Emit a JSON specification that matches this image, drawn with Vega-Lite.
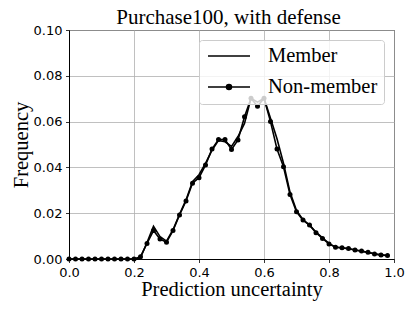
{
  "$schema": "https://vega.github.io/schema/vega-lite/v6.json",
  "autosize": "none",
  "width": 325,
  "height": 229,
  "padding": {"left": 69, "top": 30, "right": 21, "bottom": 52},
  "background": "white",
  "title": {
    "text": "Purchase100, with defense",
    "font": "Liberation Serif",
    "fontSize": 21,
    "fontWeight": "normal",
    "color": "black",
    "anchor": "middle",
    "baseline": "alphabetic",
    "offset": 7,
    "dy": 28,
    "dx": -3
  },
  "data": {
    "values": [
      {"u": 0.00, "Member": 0, "Non-member": 0},
      {"u": 0.02, "Member": 0, "Non-member": 0},
      {"u": 0.04, "Member": 0, "Non-member": 0},
      {"u": 0.06, "Member": 0, "Non-member": 0},
      {"u": 0.08, "Member": 0, "Non-member": 0},
      {"u": 0.10, "Member": 0, "Non-member": 0},
      {"u": 0.12, "Member": 0, "Non-member": 0},
      {"u": 0.14, "Member": 0, "Non-member": 0},
      {"u": 0.16, "Member": 0, "Non-member": 0},
      {"u": 0.18, "Member": 0, "Non-member": 0},
      {"u": 0.20, "Member": 0, "Non-member": 0},
      {"u": 0.22, "Member": 0.0005, "Non-member": 0.001},
      {"u": 0.24, "Member": 0.0072, "Non-member": 0.0068},
      {"u": 0.26, "Member": 0.0143, "Non-member": 0.0124},
      {"u": 0.28, "Member": 0.0098, "Non-member": 0.0087},
      {"u": 0.30, "Member": 0.0078, "Non-member": 0.0073},
      {"u": 0.32, "Member": 0.0128, "Non-member": 0.0124},
      {"u": 0.34, "Member": 0.0195, "Non-member": 0.0192},
      {"u": 0.36, "Member": 0.0258, "Non-member": 0.0253},
      {"u": 0.38, "Member": 0.0338, "Non-member": 0.0331},
      {"u": 0.40, "Member": 0.0368, "Non-member": 0.0355},
      {"u": 0.42, "Member": 0.0418, "Non-member": 0.041},
      {"u": 0.44, "Member": 0.0475, "Non-member": 0.048},
      {"u": 0.46, "Member": 0.0518, "Non-member": 0.0522},
      {"u": 0.48, "Member": 0.0512, "Non-member": 0.0522},
      {"u": 0.50, "Member": 0.0492, "Non-member": 0.0478},
      {"u": 0.52, "Member": 0.0535, "Non-member": 0.052},
      {"u": 0.54, "Member": 0.0592, "Non-member": 0.0621},
      {"u": 0.56, "Member": 0.0702, "Non-member": 0.0702},
      {"u": 0.58, "Member": 0.0685, "Non-member": 0.0667},
      {"u": 0.60, "Member": 0.0702, "Non-member": 0.0702},
      {"u": 0.62, "Member": 0.0615, "Non-member": 0.060},
      {"u": 0.64, "Member": 0.0525, "Non-member": 0.048},
      {"u": 0.66, "Member": 0.0418, "Non-member": 0.0403},
      {"u": 0.68, "Member": 0.0292, "Non-member": 0.0282},
      {"u": 0.70, "Member": 0.0212, "Non-member": 0.0206},
      {"u": 0.72, "Member": 0.0172, "Non-member": 0.017},
      {"u": 0.74, "Member": 0.0148, "Non-member": 0.0148},
      {"u": 0.76, "Member": 0.0118, "Non-member": 0.0115},
      {"u": 0.78, "Member": 0.0092, "Non-member": 0.009},
      {"u": 0.80, "Member": 0.0068, "Non-member": 0.0066},
      {"u": 0.82, "Member": 0.0052, "Non-member": 0.0051},
      {"u": 0.84, "Member": 0.0048, "Non-member": 0.0049},
      {"u": 0.86, "Member": 0.0045, "Non-member": 0.0046},
      {"u": 0.88, "Member": 0.0039, "Non-member": 0.0039},
      {"u": 0.90, "Member": 0.0034, "Non-member": 0.0035},
      {"u": 0.92, "Member": 0.0029, "Non-member": 0.0029},
      {"u": 0.94, "Member": 0.0023, "Non-member": 0.0022},
      {"u": 0.96, "Member": 0.0018, "Non-member": 0.0017},
      {"u": 0.98, "Member": 0.0015, "Non-member": 0.0015}
    ]
  },
  "transform": [
    {"fold": ["Member", "Non-member"], "as": ["series", "freq"]}
  ],
  "encoding": {
    "x": {
      "field": "u",
      "type": "quantitative",
      "scale": {"domain": [0, 1], "nice": false, "zero": false},
      "axis": {
        "title": "Prediction uncertainty",
        "values": [0, 0.2, 0.4, 0.6, 0.8, 1.0],
        "format": ".1f",
        "labelFlush": false,
        "titleBaseline": "alphabetic",
        "titleY": 36
      }
    },
    "y": {
      "field": "freq",
      "type": "quantitative",
      "scale": {"domain": [0, 0.1], "nice": false},
      "axis": {
        "title": "Frequency",
        "values": [0, 0.02, 0.04, 0.06, 0.08, 0.1],
        "format": ".2f",
        "labelFlush": false,
        "titleBaseline": "alphabetic",
        "titleX": -42
      }
    },
    "color": {
      "field": "series",
      "type": "nominal",
      "scale": {"domain": ["Member", "Non-member"], "range": ["black", "black"]},
      "legend": {
        "title": null,
        "orient": "none",
        "legendX": 130,
        "legendY": 10,
        "labelFont": "Liberation Serif",
        "labelFontSize": 20.5,
        "labelColor": "black",
        "labelLimit": 300,
        "symbolSize": 1764,
        "symbolStrokeWidth": 1.5,
        "symbolStrokeColor": "black",
        "symbolFillColor": "black",
        "symbolOffset": 2,
        "labelOffset": 17,
        "clipHeight": 20,
        "rowPadding": 10,
        "padding": 6,
        "fillColor": "rgba(255,255,255,0.8)",
        "strokeColor": "#cccccc",
        "cornerRadius": 3,
        "encode": {
          "symbols": {
            "update": {
              "shape": {"signal": "datum.value == 'Member' ? 'M-1,0H1' : 'M-1,0H1M-0.12,0A0.12,0.12,0,1,1,0.12,0A0.12,0.12,0,1,1,-0.12,0Z'"},
              "fill": {"value": "black"},
              "stroke": {"value": "black"},
              "strokeWidth": {"value": 1.5},
              "opacity": {"value": 1}
            }
          }
        }
      }
    }
  },
  "layer": [
    {
      "mark": {"type": "line", "strokeWidth": 1.6, "color": "black"},
      "encoding": {"detail": {"field": "series"}}
    },
    {
      "transform": [{"filter": "datum.series == 'Non-member'"}],
      "mark": {"type": "point", "filled": true, "size": 25, "opacity": 1, "shape": "circle"}
    }
  ],
  "config": {
    "view": {"stroke": "black", "strokeWidth": 1},
    "axis": {
      "grid": true,
      "gridColor": "#b0b0b0",
      "gridWidth": 0.8,
      "domainColor": "black",
      "domainWidth": 1,
      "tickColor": "black",
      "tickSize": 3.5,
      "tickWidth": 0.8,
      "labelPadding": 3.5,
      "labelFont": "DejaVu Sans",
      "labelFontSize": 13,
      "labelColor": "black",
      "titleFont": "Liberation Serif",
      "titleFontSize": 20.5,
      "titleFontWeight": "normal",
      "titleColor": "black"
    }
  }
}
